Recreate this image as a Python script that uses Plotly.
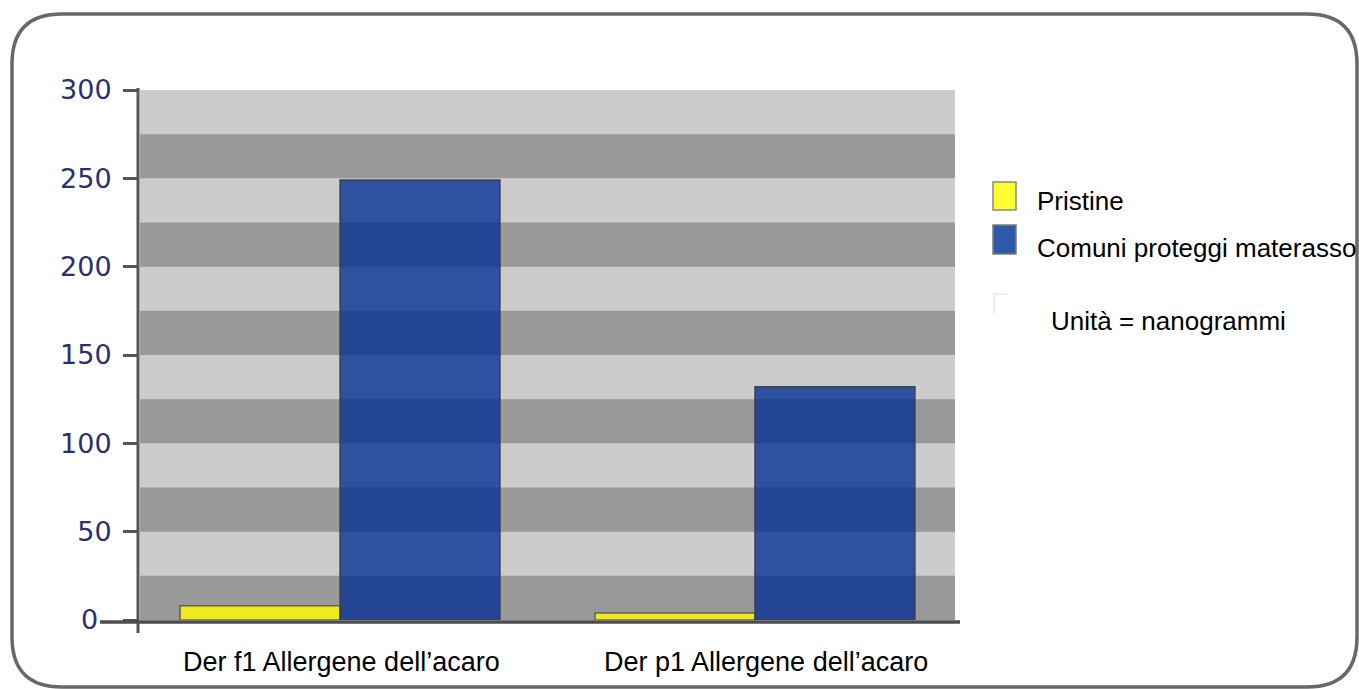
import plotly.graph_objects as go

categories = ["Der f1 Allergene dell\u2019acaro", "Der p1 Allergene dell\u2019acaro"]
pristine = [8, 4]
comuni = [249, 132]
series_names = ["Pristine", "Comuni proteggi materasso"]
note_text = "Unit\u00e0 = nanogrammi"
y_ticks = [0, 50, 100, 150, 200, 250, 300]
y_tick_text = ["0\u2002", "50", "100", "150", "200", "250", "300"]

W, H = 1359, 689
L, R, T, B = 140, 955, 90, 620  # plot area in px

def px(xp):
    return (xp - L) / (R - L)

def py(yp):
    return (B - yp) / (B - T)

fig = go.Figure()
fig.add_trace(go.Bar(
    x=categories, y=pristine, name=series_names[0],
    marker=dict(color="#eeea1e", line=dict(color="rgba(80,80,80,0.85)", width=1.5)),
    showlegend=False,
))
fig.add_trace(go.Bar(
    x=categories, y=comuni, name=series_names[1],
    marker=dict(color="rgba(0,44,146,0.77)", line=dict(color="rgba(60,60,70,0.9)", width=1.5)),
    showlegend=False,
))

shapes = []
# dark stripes
for k in range(0, 300, 50):
    shapes.append(dict(type="rect", xref="paper", yref="y", x0=0, x1=1, y0=k, y1=k + 25,
                       fillcolor="#999999", line=dict(width=0), layer="below"))
# axis lines
shapes.append(dict(type="line", xref="paper", yref="paper", x0=px(138), x1=px(138), y0=py(88), y1=py(633),
                   line=dict(color="#555555", width=3)))
shapes.append(dict(type="line", xref="paper", yref="paper", x0=px(100), x1=px(960), y0=py(622), y1=py(622),
                   line=dict(color="#4d4d4d", width=3.5)))

# rounded border
x0b, x1b, y0b, y1b, r = 12, 1357, 14, 687, 50
pts = [
    ("M", [(x0b + r, y0b)]), ("L", [(x1b - r, y0b)]), ("Q", [(x1b, y0b), (x1b, y0b + r)]),
    ("L", [(x1b, y1b - r)]), ("Q", [(x1b, y1b), (x1b - r, y1b)]),
    ("L", [(x0b + r, y1b)]), ("Q", [(x0b, y1b), (x0b, y1b - r)]),
    ("L", [(x0b, y0b + r)]), ("Q", [(x0b, y0b), (x0b + r, y0b)]),
]
path = ""
for cmd, ps in pts:
    path += cmd + " " + " ".join(f"{px(a):.5f},{py(b):.5f}" for a, b in ps) + " "
path += "Z"
shapes.append(dict(type="path", xref="paper", yref="paper", path=path,
                   line=dict(color="#686868", width=3.5)))

# legend squares
shapes.append(dict(type="rect", xref="paper", yref="paper", x0=px(993), x1=px(1016), y0=py(182), y1=py(210),
                   fillcolor="#ffff33", line=dict(color="#8a8a70", width=1.5)))
shapes.append(dict(type="rect", xref="paper", yref="paper", x0=px(993), x1=px(1016), y0=py(225), y1=py(254),
                   fillcolor="#2e58a8", line=dict(color="#7a7a80", width=1.5)))
shapes.append(dict(type="path", xref="paper", yref="paper",
                   path=f"M {px(994):.5f},{py(313):.5f} L {px(994):.5f},{py(294):.5f} L {px(1008):.5f},{py(294):.5f}",
                   line=dict(color="#dddddd", width=1.2)))

lf = dict(family="Liberation Sans, Arial", size=26, color="#000000")
cf = dict(family="Liberation Sans, Arial", size=27, color="#000000")
annotations = [
    dict(xref="paper", yref="paper", x=px(1035), y=py(201), text=series_names[0], showarrow=False,
         xanchor="left", yanchor="middle", font=lf),
    dict(xref="paper", yref="paper", x=px(1035), y=py(248), text=series_names[1], showarrow=False,
         xanchor="left", yanchor="middle", font=lf),
    dict(xref="paper", yref="paper", x=px(1049), y=py(321), text=note_text, showarrow=False,
         xanchor="left", yanchor="middle", font=lf),
]
# category labels (second one sits slightly right of its group, as in the reference)
label_shift = [1, 11]
for cat, sh in zip(categories, label_shift):
    annotations.append(dict(xref="x", yref="paper", x=cat, y=py(662), text=cat, showarrow=False,
                            xanchor="center", yanchor="middle", xshift=sh, font=cf))

fig.update_layout(
    width=W, height=H,
    margin=dict(l=L, r=W - R, t=T, b=H - B, pad=0),
    paper_bgcolor="white", plot_bgcolor="#cccccc",
    barmode="group", bargap=0.229, bargroupgap=0,
    shapes=shapes, annotations=annotations,
    showlegend=False,
)
fig.update_xaxes(
    range=[-0.482, 1.482], showgrid=False, zeroline=False, showline=False,
    ticks="", showticklabels=False,
)
fig.update_yaxes(
    range=[0, 300], tickvals=y_ticks, ticktext=y_tick_text, showgrid=False, zeroline=False, showline=False,
    ticks="outside", ticklen=16, tickwidth=2.5, tickcolor="#555555",
    tickfont=dict(family="DejaVu Sans, Verdana", size=27, color="#2e2e6e"),
    ticklabelstandoff=6,
)

fig.write_html("out.html", config={"displayModeBar": False},
               post_script="document.body.style.margin='0';")
